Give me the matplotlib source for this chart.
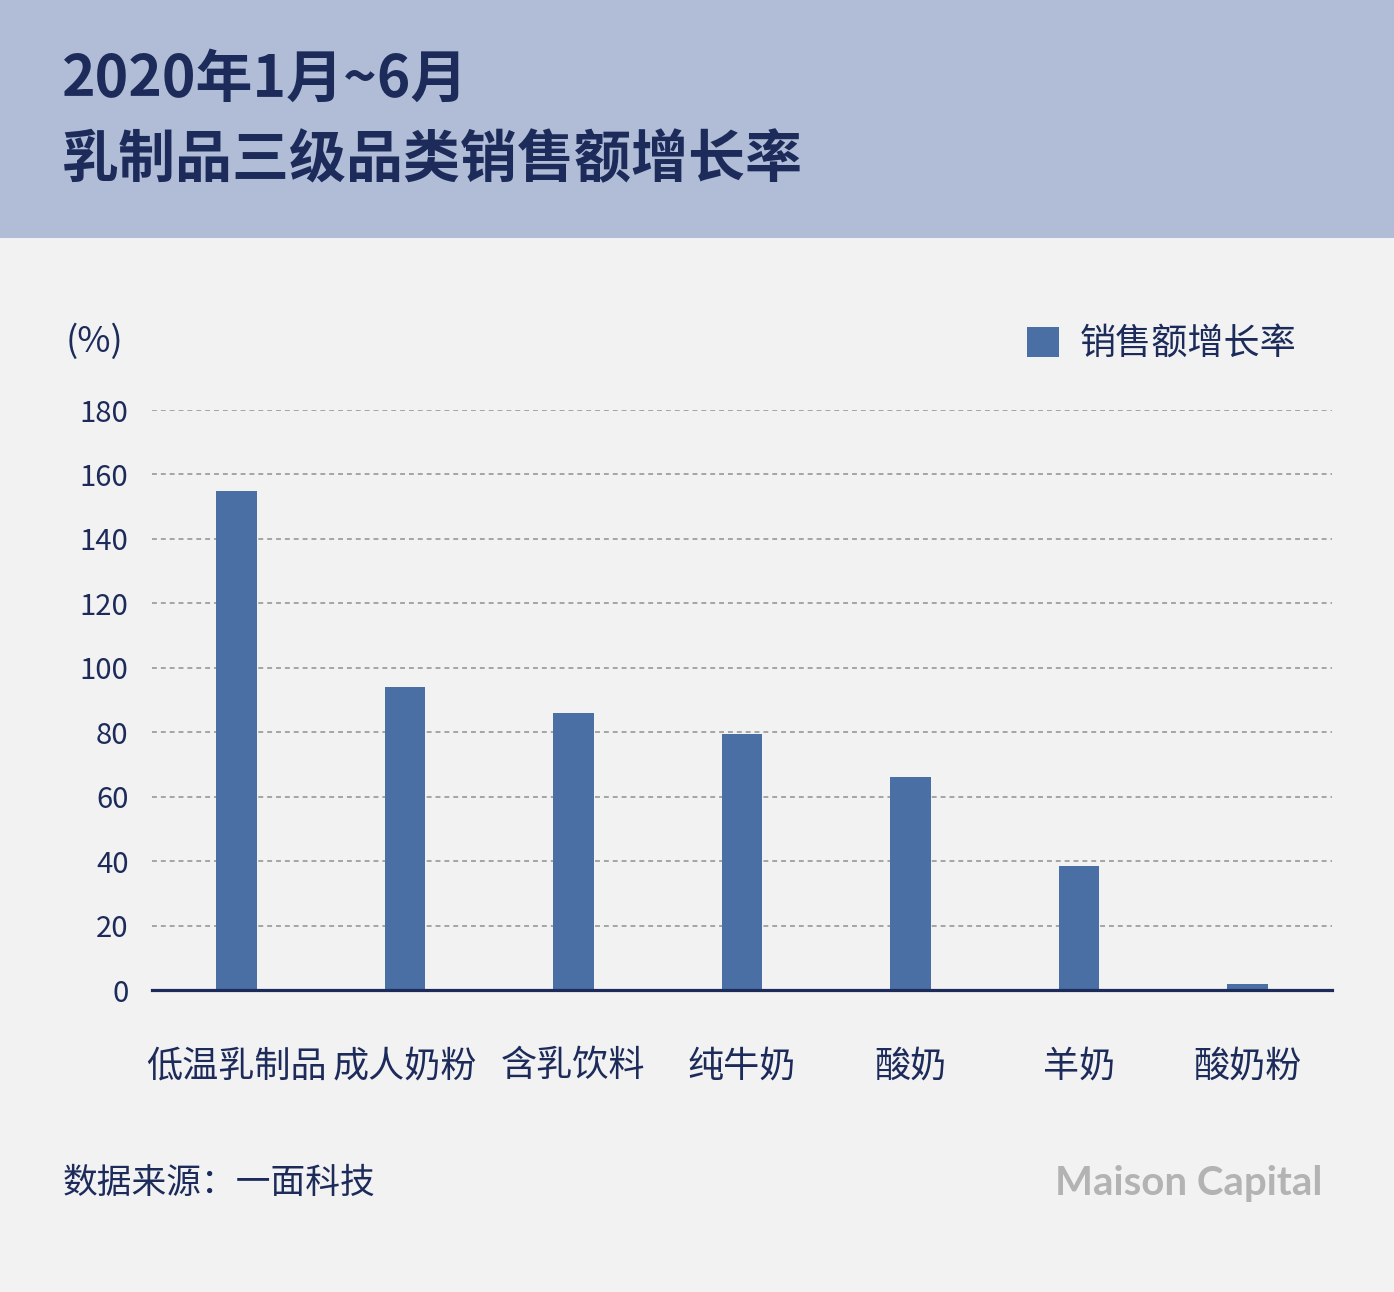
import matplotlib
matplotlib.use("Agg")
import matplotlib.pyplot as plt
from matplotlib.patches import Rectangle

plt.rcParams['font.family'] = ['Noto Sans CJK SC', 'DejaVu Sans']

categories = ["低温乳制品", "成人奶粉", "含乳饮料", "纯牛奶", "酸奶", "羊奶", "酸奶粉"]
values = [155, 94, 86, 79.5, 66, 38.5, 2]
yticks = [0, 20, 40, 60, 80, 100, 120, 140, 160, 180]
series_name = "销售额增长率"
title_lines = ["2020年1月~6月", "乳制品三级品类销售额增长率"]
source_text = "数据来源：一面科技"
brand_text = "Maison Capital"

W, H = 1394, 1292
fig = plt.figure(figsize=(W / 100, H / 100), dpi=100)
fig.patch.set_facecolor("#f2f2f2")

navy = "#1c2b5a"
bar_color = "#4a6fa5"

# header band
fig.patches.append(Rectangle((0, 1 - 238 / H), 1, 238 / H, transform=fig.transFigure,
                             facecolor="#b1bdd6", edgecolor="none", zorder=0))
fig.text(62 / W, 1 - 80 / H, title_lines[0], fontsize=41, fontweight="bold",
         color=navy, va="center", ha="left")
fig.text(62 / W, 1 - 160 / H, title_lines[1], fontsize=41, fontweight="bold",
         color=navy, va="center", ha="left")

ax = fig.add_axes([152 / W, 1 - 990 / H, (1332 - 152) / W, (990 - 410) / H])
ax.set_facecolor("none")
x = list(range(len(categories)))
bars = ax.bar(x, values, width=0.24, color=bar_color, label=series_name, zorder=3)
ax.set_xlim(-0.5, len(categories) - 0.5)
ax.set_ylim(0, 180)
ax.set_yticks(yticks)
ax.set_yticklabels([str(t) for t in yticks], fontsize=21, color=navy, fontweight=500)
ax.set_xticks(x)
ax.set_xticklabels(categories, fontsize=26, color=navy, fontweight=500)
ax.tick_params(axis="both", length=0)
ax.tick_params(axis="y", pad=17)
ax.tick_params(axis="x", pad=42)
for t in yticks[1:]:
    ax.axhline(t, color="#8f8f8f", lw=1.1, linestyle=(0, (3.2, 2.6)), zorder=1)
for s in ["top", "right", "left"]:
    ax.spines[s].set_visible(False)
ax.spines["bottom"].set_color(navy)
ax.spines["bottom"].set_linewidth(2.3)
ax.spines["bottom"].set_zorder(4)

fig.text(66 / W, 1 - 342 / H, "(%)", fontsize=26, color=navy, va="center", ha="left")

leg = ax.legend(handles=[bars], loc="center right",
                bbox_to_anchor=(1296 / W, 1 - 344 / H), bbox_transform=fig.transFigure,
                frameon=False, fontsize=26, handlelength=0.9, handleheight=0.9,
                handletextpad=0.55, borderpad=0, borderaxespad=0)
for t in leg.get_texts():
    t.set_color(navy)
    t.set_fontweight(500)

fig.text(63 / W, 1 - 1183 / H, source_text, fontsize=25, color=navy, va="center", ha="left")
fig.text(1322 / W, 1 - 1183 / H, brand_text, fontsize=29, color="#b3b3b3",
         fontweight="bold", family=["Lato", "DejaVu Sans"], va="center", ha="right")

fig.savefig("out.png", dpi=100, facecolor=fig.get_facecolor())
